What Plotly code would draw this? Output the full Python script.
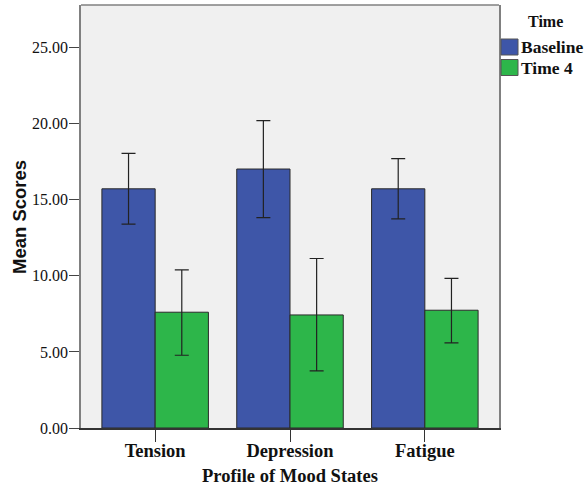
import plotly.graph_objects as go

categories = ["Tension", "Depression", "Fatigue"]
series_names = ["Baseline", "Time 4"]
baseline_mean = [15.72, 17.02, 15.72]
baseline_upper = [18.05, 20.2, 17.7]
baseline_lower = [13.4, 13.82, 13.75]
time4_mean = [7.61, 7.43, 7.74]
time4_upper = [10.39, 11.14, 9.83]
time4_lower = [4.78, 3.75, 5.59]
y_ticks = [0, 5, 10, 15, 20, 25]
y_tick_labels = ["0.00", "5.00", "10.00", "15.00", "20.00", "25.00"]

colors = ["#3E56A8", "#2DB64A"]
serif = "Liberation Serif, Times New Roman, serif"

fig = go.Figure()
for name, mean, up, lo, col in [
    (series_names[0], baseline_mean, baseline_upper, baseline_lower, colors[0]),
    (series_names[1], time4_mean, time4_upper, time4_lower, colors[1]),
]:
    fig.add_trace(go.Bar(
        x=categories, y=mean, name=name,
        marker=dict(color=col, line=dict(color="#2a2a2a", width=1)),
        error_y=dict(type="data", symmetric=False,
                     array=[u - m for u, m in zip(up, mean)],
                     arrayminus=[m - l for m, l in zip(mean, lo)],
                     color="#222222", thickness=1.2, width=7),
        showlegend=False,
    ))

W, H = 586, 485
ml, mr, mt, mb = 81, 87, 5, 57
pw, ph = W - ml - mr, H - mt - mb

def px_x(x):
    return (x - ml) / pw

def px_y(y):
    return (H - mb - y) / ph

shapes = [dict(type="line", xref="paper", yref="paper", x0=0, x1=1, y0=1, y1=1,
               line=dict(color="#808080", width=1.5))]
annotations = [
    dict(text="<b>Time</b>", xref="paper", yref="paper", x=px_x(545), y=px_y(22),
         showarrow=False, font=dict(family=serif, size=16, color="#111"),
         xanchor="center", yanchor="middle"),
    dict(text="<b>Profile of Mood States</b>", xref="paper", yref="paper", x=0.5, y=px_y(476),
         showarrow=False, font=dict(family=serif, size=18.5, color="#111"),
         xanchor="center", yanchor="middle"),
    dict(text="<b>Mean Scores</b>", xref="paper", yref="paper", x=px_x(19), y=px_y(217),
         showarrow=False, textangle=-90,
         font=dict(family="Liberation Sans, Arial, sans-serif", size=18.5, color="#111"),
         xanchor="center", yanchor="middle"),
]
for i, (name, col) in enumerate(zip(series_names, colors)):
    yc = 47 + i * 20.5
    shapes.append(dict(type="rect", xref="paper", yref="paper",
                       x0=px_x(501), x1=px_x(518), y0=px_y(yc - 8), y1=px_y(yc + 8),
                       fillcolor=col, line=dict(color="#555", width=1)))
    annotations.append(dict(text="<b>%s</b>" % name, xref="paper", yref="paper",
                            x=px_x(519), y=px_y(yc), showarrow=False,
                            font=dict(family=serif, size=17.5, color="#111"),
                            xanchor="left", yanchor="middle"))

fig.update_layout(
    width=W, height=H,
    margin=dict(l=ml, r=mr, t=mt, b=mb, autoexpand=False),
    paper_bgcolor="white", plot_bgcolor="#F0F0F0",
    barmode="group", bargap=0.21, bargroupgap=0,
    shapes=shapes, annotations=annotations,
    xaxis=dict(
        range=[-0.55, 2.55], showgrid=False, showline=True, linecolor="#333", linewidth=1.5,
        ticks="outside", ticklen=12, tickcolor="#333", tickwidth=1.2,
        ticklabelstandoff=-7,
        tickfont=dict(family=serif, size=18.5, color="#111", weight="bold"),
        automargin=False,
    ),
    yaxis=dict(
        range=[0, 27.8], showgrid=False, zeroline=False, showline=True, mirror=True,
        linecolor="#808080", linewidth=1.5,
        tickvals=y_ticks, ticktext=y_tick_labels,
        ticks="outside", ticklen=10, tickcolor="#444", tickwidth=1.2,
        ticklabelstandoff=-2,
        tickfont=dict(family=serif, size=16, color="#111"),
        automargin=False,
    ),
)

fig.write_html("out.html", config={"displayModeBar": False},
               post_script="document.body.style.margin='0px';")
